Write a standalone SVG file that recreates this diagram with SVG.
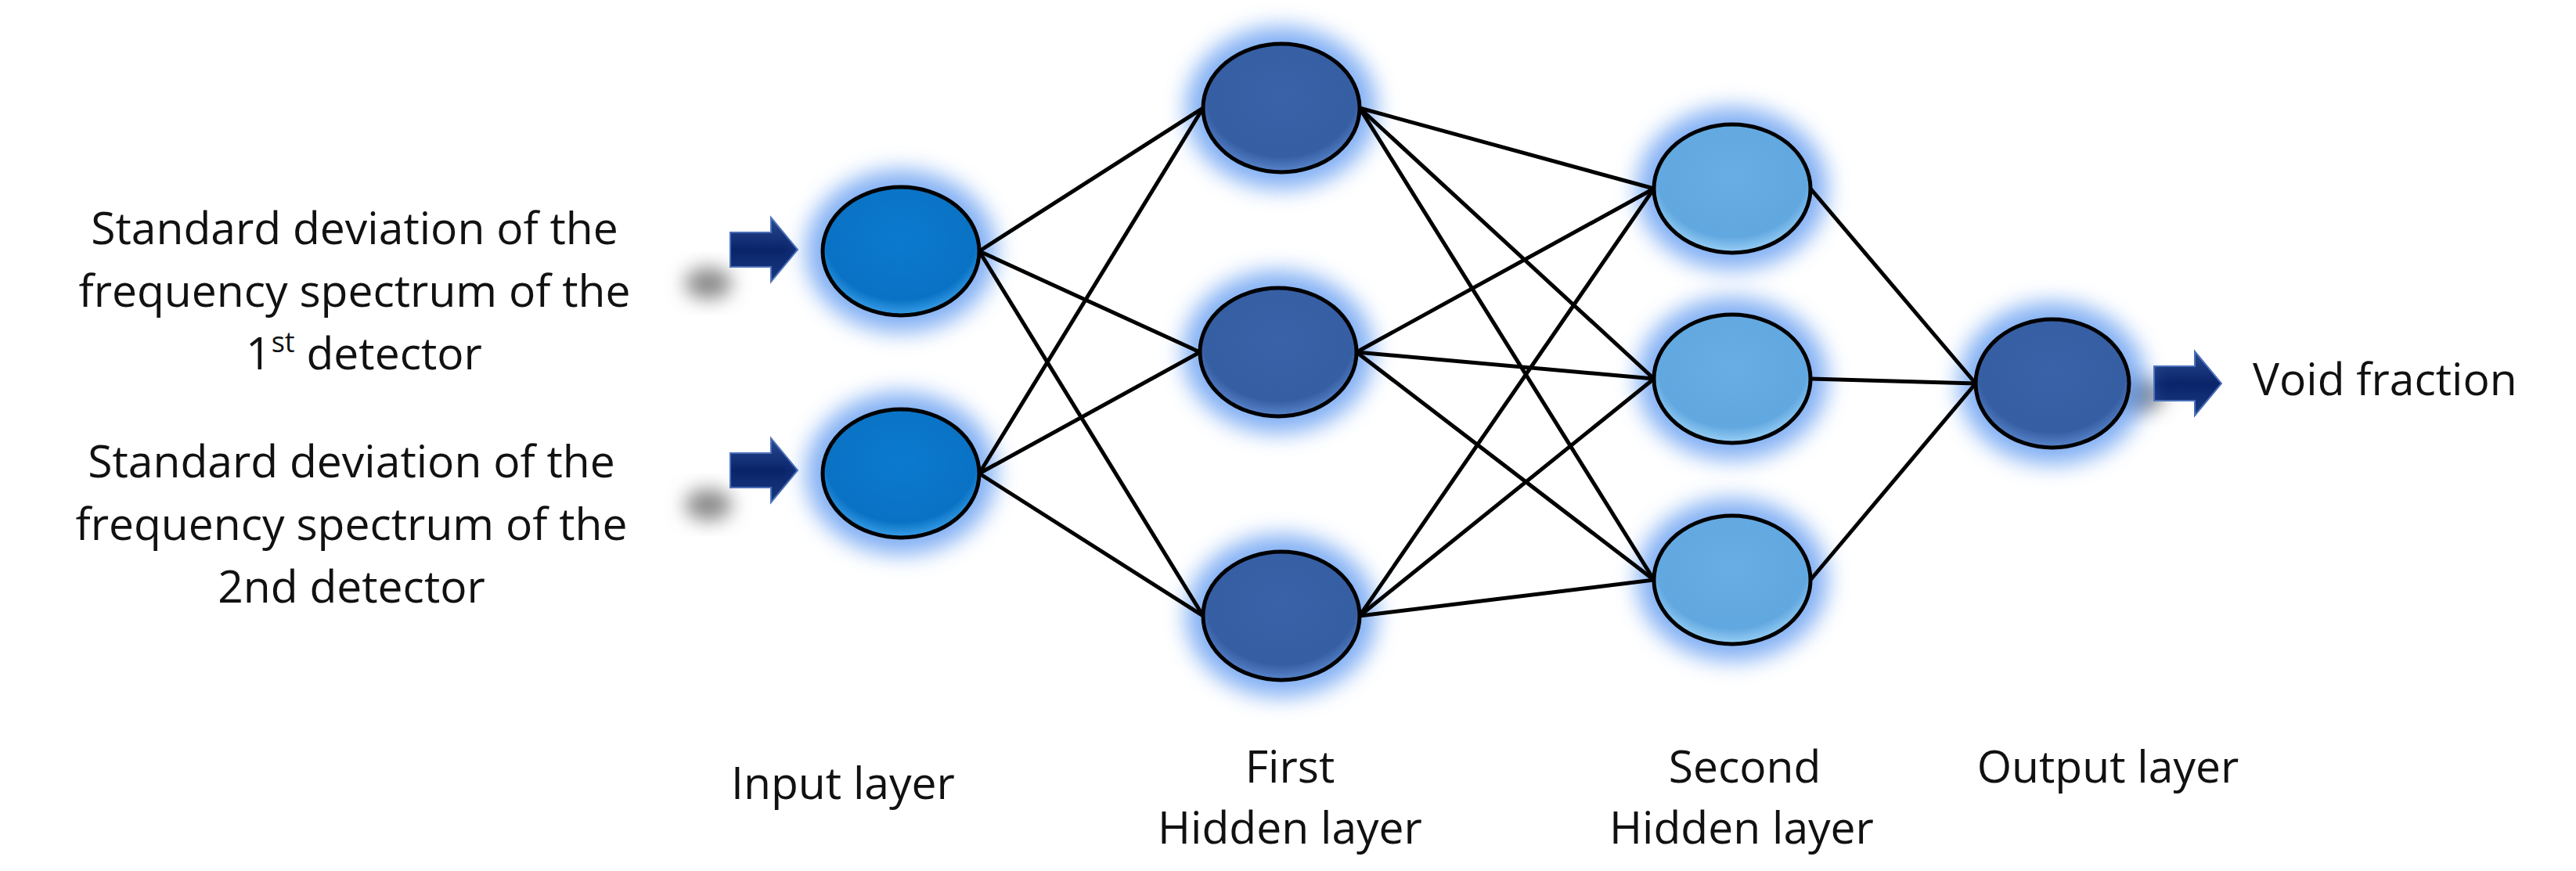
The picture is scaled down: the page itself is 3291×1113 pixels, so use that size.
<svg xmlns="http://www.w3.org/2000/svg" width="3291" height="1113" viewBox="0 0 3291 1113">
<defs>
<style>
text{font-family:"Open Sans","DejaVu Sans",sans-serif;font-size:57px;fill:#111;text-anchor:middle}
.edge{stroke:#000;stroke-width:5;fill:none}
.node{stroke:#000;stroke-width:5}
.glow{fill:#5a96f0;opacity:.75;filter:url(#blur)}
.arr{fill:url(#ag);stroke:#4a6fb8;stroke-width:2}
</style>
<filter id="blur" x="-50%" y="-50%" width="200%" height="200%"><feGaussianBlur stdDeviation="14"/></filter>
<filter id="blur2" x="-50%" y="-50%" width="200%" height="200%"><feGaussianBlur stdDeviation="12"/></filter>
<radialGradient id="gIn" cx="50%" cy="40%" r="60%"><stop offset="0" stop-color="#0a7ad0"/><stop offset="0.8" stop-color="#0a72c4"/><stop offset="1" stop-color="#3aa0ea"/></radialGradient>
<radialGradient id="gH1" cx="50%" cy="40%" r="60%"><stop offset="0" stop-color="#3a62a8"/><stop offset="0.8" stop-color="#365ea3"/><stop offset="1" stop-color="#5a86cc"/></radialGradient>
<radialGradient id="gH2" cx="50%" cy="40%" r="60%"><stop offset="0" stop-color="#68aee4"/><stop offset="0.8" stop-color="#62a8e0"/><stop offset="1" stop-color="#9ad0f6"/></radialGradient>
<linearGradient id="ag" x1="0" y1="0" x2="0" y2="1"><stop offset="0" stop-color="#2a4a90"/><stop offset="0.5" stop-color="#0a246a"/><stop offset="1" stop-color="#1a3a80"/></linearGradient>
<path id="arrow" d="M0,-22 L52,-22 L52,-41 L86,0 L52,41 L52,22 L0,22 Z"/>
</defs>
<rect width="3291" height="1113" fill="#fff"/>
<g id="labels">
<text x="453" y="312">Standard deviation of the</text>
<text x="453" y="392">frequency spectrum of the</text>
<text x="465" y="472">1<tspan font-size="36" dy="-22">st</tspan><tspan dy="22">  detector</tspan></text>
<text x="449" y="610">Standard deviation of the</text>
<text x="449" y="690">frequency spectrum of the</text>
<text x="449" y="770">2nd  detector</text>
<text x="1077" y="1021">Input layer</text>
<text x="1648" y="1000">First</text>
<text x="1648" y="1078">Hidden layer</text>
<text x="2229" y="1000">Second</text>
<text x="2225" y="1078">Hidden layer</text>
<text x="2693" y="1000">Output layer</text>
<text x="2878" y="505" style="text-anchor:start">Void fraction</text>
</g>
<g id="arrows">
<ellipse cx="905" cy="362" rx="30" ry="20" fill="#888" filter="url(#blur2)"/>
<ellipse cx="905" cy="645" rx="30" ry="20" fill="#888" filter="url(#blur2)"/>
<ellipse cx="2735" cy="505" rx="30" ry="20" fill="#888" filter="url(#blur2)"/>
<use href="#arrow" class="arr" x="933" y="319"/>
<use href="#arrow" class="arr" x="933" y="601"/>
<use href="#arrow" class="arr" x="2752" y="490"/>
</g>
<g id="glows">
<ellipse class="glow" cx="1151" cy="321" rx="122" ry="104"/>
<ellipse class="glow" cx="1151" cy="605" rx="122" ry="104"/>
<ellipse class="glow" cx="1637" cy="138" rx="122" ry="104"/>
<ellipse class="glow" cx="1633" cy="450" rx="122" ry="104"/>
<ellipse class="glow" cx="1637" cy="787" rx="122" ry="104"/>
<ellipse class="glow" cx="2213" cy="241" rx="122" ry="104"/>
<ellipse class="glow" cx="2213" cy="484" rx="122" ry="104"/>
<ellipse class="glow" cx="2213" cy="741" rx="122" ry="104"/>
<ellipse class="glow" cx="2622" cy="490" rx="120" ry="104"/>
</g>
<g id="connectors">
<line class="edge" x1="1251" y1="321" x2="1537" y2="138"/>
<line class="edge" x1="1251" y1="321" x2="1533" y2="450"/>
<line class="edge" x1="1251" y1="321" x2="1537" y2="787"/>
<line class="edge" x1="1251" y1="605" x2="1537" y2="138"/>
<line class="edge" x1="1251" y1="605" x2="1533" y2="450"/>
<line class="edge" x1="1251" y1="605" x2="1537" y2="787"/>
<line class="edge" x1="1737" y1="138" x2="2113" y2="241"/>
<line class="edge" x1="1737" y1="138" x2="2113" y2="484"/>
<line class="edge" x1="1737" y1="138" x2="2113" y2="741"/>
<line class="edge" x1="1733" y1="450" x2="2113" y2="241"/>
<line class="edge" x1="1733" y1="450" x2="2113" y2="484"/>
<line class="edge" x1="1733" y1="450" x2="2113" y2="741"/>
<line class="edge" x1="1737" y1="787" x2="2113" y2="241"/>
<line class="edge" x1="1737" y1="787" x2="2113" y2="484"/>
<line class="edge" x1="1737" y1="787" x2="2113" y2="741"/>
<line class="edge" x1="2313" y1="241" x2="2524" y2="490"/>
<line class="edge" x1="2313" y1="484" x2="2524" y2="490"/>
<line class="edge" x1="2313" y1="741" x2="2524" y2="490"/>
</g>
<g id="in1"><ellipse class="node" cx="1151" cy="321" rx="100" ry="82" fill="url(#gIn)"/></g>
<g id="in2"><ellipse class="node" cx="1151" cy="605" rx="100" ry="82" fill="url(#gIn)"/></g>
<g id="h1a"><ellipse class="node" cx="1637" cy="138" rx="100" ry="82" fill="url(#gH1)"/></g>
<g id="h1b"><ellipse class="node" cx="1633" cy="450" rx="100" ry="82" fill="url(#gH1)"/></g>
<g id="h1c"><ellipse class="node" cx="1637" cy="787" rx="100" ry="82" fill="url(#gH1)"/></g>
<g id="h2a"><ellipse class="node" cx="2213" cy="241" rx="100" ry="82" fill="url(#gH2)"/></g>
<g id="h2b"><ellipse class="node" cx="2213" cy="484" rx="100" ry="82" fill="url(#gH2)"/></g>
<g id="h2c"><ellipse class="node" cx="2213" cy="741" rx="100" ry="82" fill="url(#gH2)"/></g>
<g id="out"><ellipse class="node" cx="2622" cy="490" rx="98" ry="82" fill="url(#gH1)"/></g>
</svg>
